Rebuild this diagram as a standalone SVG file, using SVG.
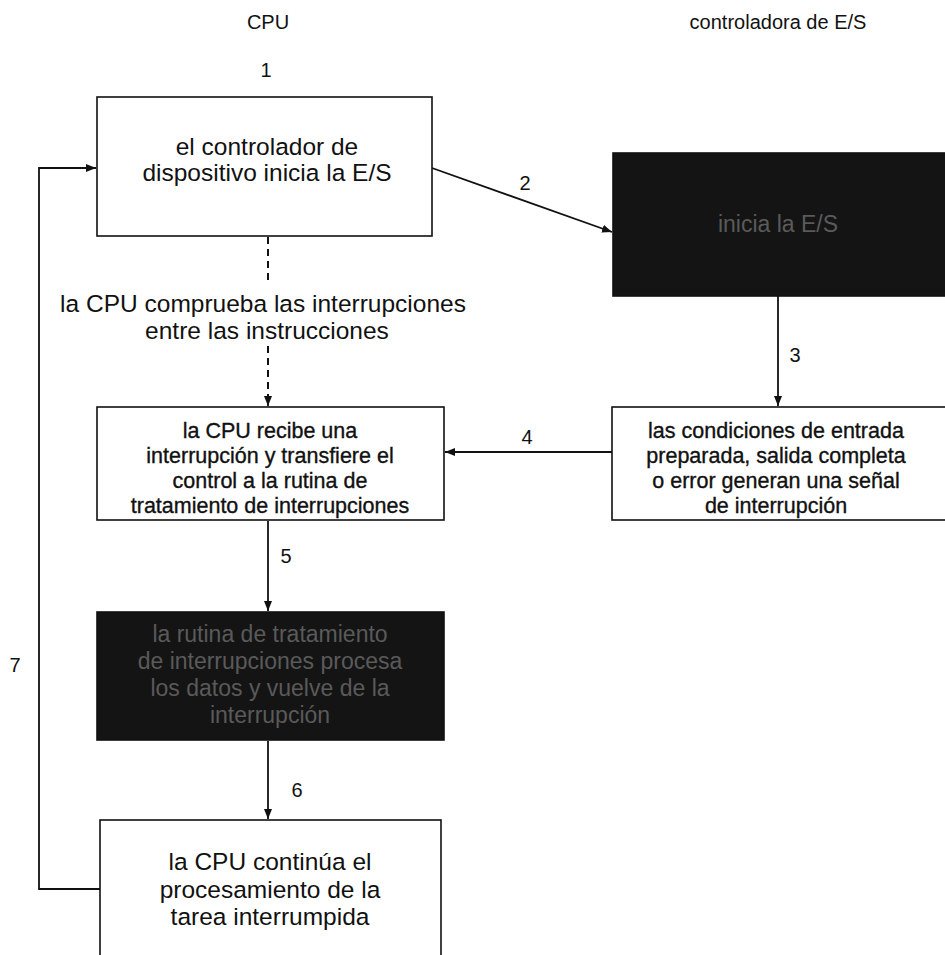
<svg xmlns="http://www.w3.org/2000/svg" width="945" height="955" viewBox="0 0 945 955">
<style>
text{font-family:"Liberation Sans",Arial,sans-serif;fill:#111;text-anchor:middle}
.t{font-size:24.5px}
.b{font-size:21.5px;stroke:#111;stroke-width:0.35}
.h{font-size:20px}
.n{font-size:20px}
.box{fill:#fff;stroke:#111;stroke-width:1.6}
.dark{fill:#141414;stroke:#111;stroke-width:1.6}
.dt{fill:#5a5a5a;font-size:23px}
.c{fill:none;stroke:#111;stroke-width:1.8}
.d{fill:none;stroke:#111;stroke-width:2;stroke-dasharray:7,5}
</style>
<defs>
<marker id="ah" markerWidth="10" markerHeight="8" refX="10" refY="4" orient="auto" markerUnits="userSpaceOnUse">
<path d="M0,0 L10,4 L0,8 Z" fill="#111"/>
</marker>
</defs>
<text class="h" x="268" y="29">CPU</text>
<text class="h" x="778" y="29">controladora de E/S</text>
<text class="n" x="266" y="77">1</text>

<g id="connectors">
<line class="c" x1="432" y1="168" x2="612" y2="232" marker-end="url(#ah)"/>
<text class="n" x="525" y="190">2</text>
<line class="c" x1="778" y1="296" x2="778" y2="406" marker-end="url(#ah)"/>
<text class="n" x="795" y="362">3</text>
<line class="c" x1="612" y1="452" x2="445" y2="452" marker-end="url(#ah)"/>
<text class="n" x="527" y="444">4</text>
<line class="d" x1="268" y1="237" x2="268" y2="282"/>
<line class="d" x1="268" y1="346" x2="268" y2="400"/>
<line class="c" x1="268" y1="400" x2="268" y2="406" marker-end="url(#ah)"/>
<line class="c" x1="268" y1="521" x2="268" y2="611" marker-end="url(#ah)"/>
<text class="n" x="286" y="563">5</text>
<line class="c" x1="268" y1="741" x2="268" y2="819" marker-end="url(#ah)"/>
<text class="n" x="297" y="797">6</text>
<polyline class="c" points="100,889 39,889 39,168 96,168" marker-end="url(#ah)"/>
<text class="n" x="15" y="672">7</text>
</g>

<text class="t" x="263" y="312">la CPU comprueba las interrupciones</text>
<text class="t" x="267" y="339">entre las instrucciones</text>

<g id="n1">
<rect class="box" x="97" y="97" width="335" height="139"/>
<text class="t" x="267" y="155">el controlador de</text>
<text class="t" x="267" y="181">dispositivo inicia la E/S</text>
</g>

<g id="n2">
<rect class="dark" x="613" y="153" width="340" height="143"/>
<text class="dt" x="778" y="232">inicia la E/S</text>
</g>

<g id="n3">
<rect class="box" x="612" y="407" width="340" height="113"/>
<text class="b" x="776" y="438">las condiciones de entrada</text>
<text class="b" x="776" y="463">preparada, salida completa</text>
<text class="b" x="776" y="488">o error generan una señal</text>
<text class="b" x="776" y="513">de interrupción</text>
</g>

<g id="n4">
<rect class="box" x="97" y="407" width="347" height="113"/>
<text class="b" x="270" y="438">la CPU recibe una</text>
<text class="b" x="270" y="463">interrupción y transfiere el</text>
<text class="b" x="270" y="488">control a la rutina de</text>
<text class="b" x="270" y="513">tratamiento de interrupciones</text>
</g>

<g id="n5">
<rect class="dark" x="97" y="612" width="347" height="128"/>
<text class="dt" x="270" y="642">la rutina de tratamiento</text>
<text class="dt" x="270" y="669">de interrupciones procesa</text>
<text class="dt" x="270" y="696">los datos y vuelve de la</text>
<text class="dt" x="270" y="723">interrupción</text>
</g>

<g id="n6">
<rect class="box" x="100" y="820" width="341" height="150"/>
<text class="t" x="270" y="870">la CPU continúa el</text>
<text class="t" x="270" y="898">procesamiento de la</text>
<text class="t" x="270" y="925">tarea interrumpida</text>
</g>
</svg>
